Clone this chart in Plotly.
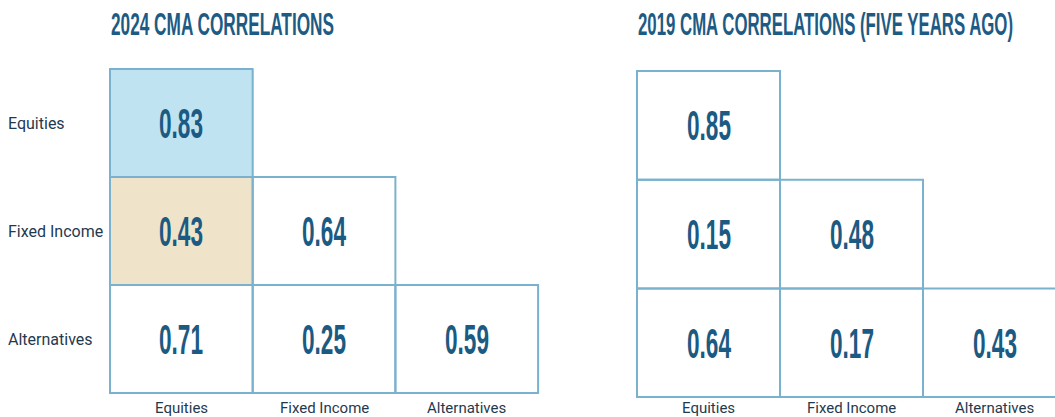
import plotly.graph_objects as go

assets = ["Equities", "Fixed Income", "Alternatives"]
corr_2024 = [[0.83, None, None],
             [0.43, 0.64, None],
             [0.71, 0.25, 0.59]]
corr_2019 = [[0.85, None, None],
             [0.15, 0.48, None],
             [0.64, 0.17, 0.43]]
# highlight codes: 0 none, 1 blue, 2 tan
highlight_2024 = [[1, None, None], [2, 0, None], [0, 0, 0]]
highlight_2019 = [[0, None, None], [0, 0, None], [0, 0, 0]]
titles = ["2024 CMA CORRELATIONS", "2019 CMA CORRELATIONS (FIVE YEARS AGO)"]
title_widths = [223, 375]

W, H = 1055, 417
NUM_COLOR = "#1b5a82"
TITLE_COLOR = "#1d5b84"
LABEL_COLOR = "#1f3a4f"
BORDER = "#7ab1ce"
COND = "Liberation Sans, Arial, sans-serif"
LABEL_FONT = "Roboto, Open Sans, sans-serif"

fig = go.Figure()

# panel geometry in pixels: (left, top, cell_w, cell_h)
panels = [(110, 69, 142.7, 108), (637, 71, 143, 108.7)]
pad = 2

def to_paper_x(px):
    return px / W

def to_paper_y(py):
    return 1 - py / H

for k, (corr, hl) in enumerate([(corr_2024, highlight_2024), (corr_2019, highlight_2019)]):
    left, top, cw, ch = panels[k]
    n = len(assets)
    xr = [-0.5 - pad / cw, n - 0.5 + pad / cw]
    x_right_px = left + n * cw + pad
    dom_x = [to_paper_x(left - pad), min(1.0, to_paper_x(x_right_px))]
    if x_right_px > W:
        xr = [xr[0], -0.5 + (W - left) / cw]
    yr = [n - 0.5 + pad / ch, -0.5 - pad / ch]
    dom_y = [to_paper_y(top + n * ch + pad), to_paper_y(top - pad)]
    sx = "" if k == 0 else str(k + 1)
    xa, ya = "x" + sx, "y" + sx
    text = [[("" if v is None else f"{v:.2f}") for v in row] for row in corr]
    fig.add_trace(go.Heatmap(
        z=hl, x=list(range(n)), y=list(range(n)), text=text,
        texttemplate="%{text}",
        textfont=dict(family=COND, size=42, color=NUM_COLOR, weight="bold"),
        colorscale=[[0, "#ffffff"], [0.5, "#c0e3f2"], [1, "#efe3c9"]],
        zmin=0, zmax=2, showscale=False, hoverinfo="skip",
        xaxis=xa, yaxis=ya,
    ))
    fig.update_layout(**{
        ("xaxis" + sx): dict(domain=dom_x, range=xr, showticklabels=False,
                             showgrid=False, zeroline=False, showline=False, ticks="",
                             anchor=ya, fixedrange=True),
        ("yaxis" + sx): dict(domain=dom_y, range=yr, showticklabels=False, showgrid=False,
                             zeroline=False, showline=False, ticks="", anchor=xa, fixedrange=True),
    })
    for i in range(n):
        for j in range(n):
            if corr[i][j] is not None:
                fig.add_shape(type="rect", xref=xa, yref=ya,
                              x0=j - 0.5, x1=j + 0.5, y0=i - 0.5, y1=i + 0.5,
                              line=dict(color=BORDER, width=2), layer="above")
    # column labels under each panel
    for j, a in enumerate(assets):
        fig.add_annotation(text=a, xref=xa, yref="paper", x=j, y=to_paper_y(407.5),
                           xanchor="center", yanchor="middle", showarrow=False,
                           font=dict(family=LABEL_FONT, size=15, color=LABEL_COLOR))
    fig.add_annotation(text=titles[k], xref="paper", yref="paper", align="left",
                       width=title_widths[k] + 2,
                       x=to_paper_x(left - 1), y=to_paper_y(25), xanchor="left", yanchor="middle",
                       showarrow=False,
                       font=dict(family=COND, size=31, color=TITLE_COLOR, weight="bold"))

# row labels for left panel
for i, a in enumerate(assets):
    fig.add_annotation(text=a, xref="paper", yref="y", x=to_paper_x(6), y=i,
                       xanchor="left", yanchor="middle", showarrow=False,
                       font=dict(family=LABEL_FONT, size=16, color=LABEL_COLOR))

fig.update_layout(width=W, height=H, margin=dict(l=0, r=0, t=0, b=0, autoexpand=False),
                  paper_bgcolor="white", plot_bgcolor="white", showlegend=False)

# condense the display-type texts (titles and correlation values) like the original's condensed face
post = """
document.body.style.margin = '0';
var titleW = {'2024 CMA CORRELATIONS': 223, '2019 CMA CORRELATIONS (FIVE YEARS AGO)': 375};
document.querySelectorAll('text').forEach(function(t){
  var s = (t.textContent || '').trim();
  if (titleW[s]) {
    t.setAttribute('textLength', titleW[s]);
    t.setAttribute('lengthAdjust', 'spacingAndGlyphs');
  } else if (/^\\d\\.\\d\\d$/.test(s)) {
    t.setAttribute('textLength', 44);
    t.setAttribute('lengthAdjust', 'spacingAndGlyphs');
  }
});
"""
fig.write_html("out.html", post_script=post, config={"displayModeBar": False})
